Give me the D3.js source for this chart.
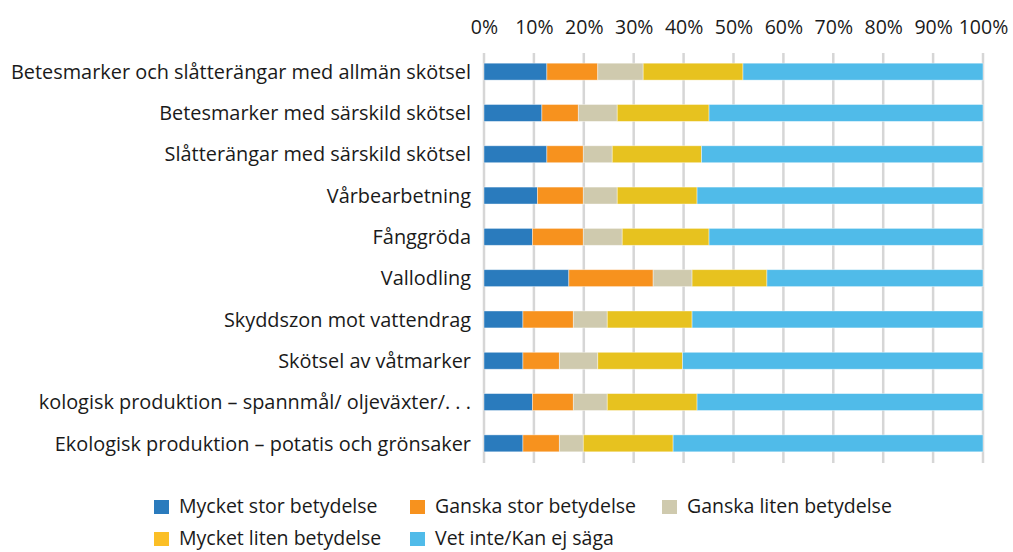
<!DOCTYPE html>
<html>
<head>
<meta charset="utf-8">
<script src="https://cdn.jsdelivr.net/npm/d3@7"></script>
<style>
  body { margin: 0; background: #fff; }
  text { font-family: "Open Sans", sans-serif; fill: #1a1a1a; }
</style>
</head>
<body>
<div id="chart"></div>
<script>
// categories (top to bottom)
const categories = [
    "Betesmarker och slåtterängar med allmän skötsel",
    "Betesmarker med särskild skötsel",
    "Slåtterängar med särskild skötsel",
    "Vårbearbetning",
    "Fånggröda",
    "Vallodling",
    "Skyddszon mot vattendrag",
    "Skötsel av våtmarker",
    "kologisk produktion – spannmål/ oljeväxter/. . .",
    "Ekologisk produktion – potatis och grönsaker"
];

const seriesNames = [
    "Mycket stor betydelse",
    "Ganska stor betydelse",
    "Ganska liten betydelse",
    "Mycket liten betydelse",
    "Vet inte/Kan ej säga"
];

// shares in percent, one array per series
const mycketStor  = [12.6, 11.6, 12.6, 10.7,  9.7, 17.0,  7.8,  7.8,  9.7,  7.8];
const ganskaStor  = [10.2,  7.3,  7.3,  9.2, 10.2, 16.9, 10.1,  7.3,  8.2,  7.3];
const ganskaLiten = [ 9.1,  7.8,  5.8,  6.8,  7.8,  7.8,  6.8,  7.7,  6.8,  4.8];
const mycketLiten = [20.0, 18.4, 17.9, 16.0, 17.4, 15.0, 17.0, 17.0, 18.0, 18.0];
const vetInte     = [48.1, 54.9, 56.4, 57.3, 54.9, 43.3, 58.3, 60.2, 57.3, 62.1];

const tickValues = [0, 10, 20, 30, 40, 50, 60, 70, 80, 90, 100];

const colors = ["#2a7bbd", "#f7921e", "#cfcaae", "#e7c21f", "#50bbe9"];
const legendColors = ["#2a7bbd", "#f7921e", "#cfcaae", "#fbbf26", "#50bbe9"];

const data = categories.map((c, i) => ({
    name: c,
    "Mycket stor betydelse": mycketStor[i],
    "Ganska stor betydelse": ganskaStor[i],
    "Ganska liten betydelse": ganskaLiten[i],
    "Mycket liten betydelse": mycketLiten[i],
    "Vet inte/Kan ej säga": vetInte[i]
}));

const width = 1013, height = 552;

const svg = d3.select("#chart")
    .append("svg")
    .attr("width", width)
    .attr("height", height);

// scales
const x = d3.scaleLinear()
    .domain([0, 100])
    .range([484, 983]);

const y = d3.scaleBand()
    .domain(categories)
    .range([51, 464])
    .paddingInner(0.59)
    .paddingOuter(0.295);

const color = d3.scaleOrdinal()
    .domain(seriesNames)
    .range(colors);

// gridlines
svg.append("g")
    .selectAll("line")
    .data(tickValues)
    .join("line")
    .attr("x1", d => x(d))
    .attr("x2", d => x(d))
    .attr("y1", 53)
    .attr("y2", 463)
    .attr("stroke", "#d6d6d6")
    .attr("stroke-width", 2.5);

// top axis labels
svg.append("g")
    .attr("transform", "translate(0, 40)")
    .call(d3.axisTop(x).tickValues(tickValues).tickFormat(d => d + "%").tickSize(0).tickPadding(6))
    .call(g => g.select(".domain").remove())
    .selectAll("text")
    .style("font-family", "'Open Sans', sans-serif")
    .style("font-size", "19.5px")
    .attr("fill", "#1a1a1a");

// category labels
svg.append("g")
    .selectAll("text")
    .data(categories)
    .join("text")
    .attr("x", 471)
    .attr("y", d => y(d) + y.bandwidth() / 2)
    .attr("dy", "0.36em")
    .attr("text-anchor", "end")
    .style("font-size", "19.9px")
    .text(d => d);

// stacked bars
const stacked = d3.stack().keys(seriesNames)(data);

svg.append("g")
    .selectAll("g")
    .data(stacked)
    .join("g")
    .attr("fill", d => color(d.key))
    .selectAll("rect")
    .data(d => d)
    .join("rect")
    .attr("x", d => x(d[0]))
    .attr("y", d => y(d.data.name))
    .attr("width", d => x(d[1]) - x(d[0]))
    .attr("height", y.bandwidth())
    .attr("stroke", "#ffffff")
    .attr("stroke-opacity", 0.5)
    .attr("stroke-width", 0.8);

// legend
const legendPos = [[154, 507], [410, 507], [662, 507], [154, 539], [410, 539]];

const legend = svg.append("g")
    .selectAll("g")
    .data(seriesNames)
    .join("g")
    .attr("transform", (d, i) => `translate(${legendPos[i][0]}, ${legendPos[i][1]})`);

legend.append("rect")
    .attr("x", 0)
    .attr("y", -7)
    .attr("width", 15)
    .attr("height", 14)
    .attr("fill", (d, i) => legendColors[i]);

legend.append("text")
    .attr("x", 25)
    .attr("y", 0)
    .attr("dy", "0.32em")
    .style("font-size", "19.5px")
    .text(d => d);
</script>
</body>
</html>
